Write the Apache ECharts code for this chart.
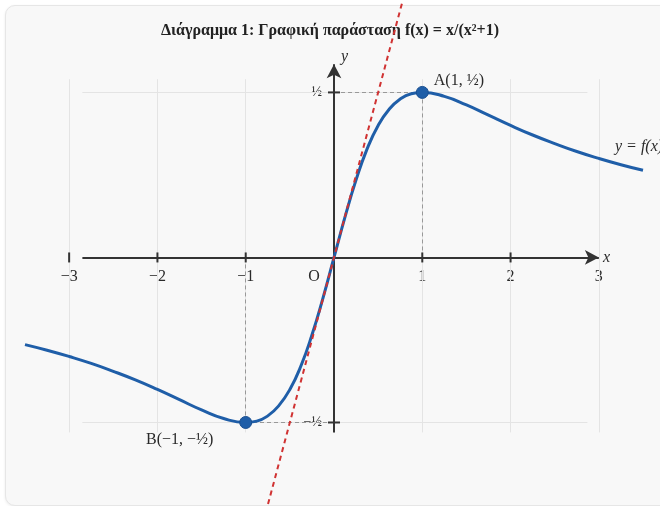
<!DOCTYPE html>
<html>
<head>
<meta charset="utf-8">
<script src="https://cdn.jsdelivr.net/npm/echarts@6/dist/echarts.min.js"></script>
<style>
html, body { margin: 0; padding: 0; background: #fff; }
#card { position: absolute; left: 5px; top: 5px; width: 700px; height: 499px; background: #f8f8f8;
        border: 1px solid #e6e6e6; border-radius: 10px; box-shadow: 0 1px 3px rgba(0,0,0,0.08); }
#chart { position: absolute; left: 0; top: 0; width: 660px; height: 506px; }
</style>
</head>
<body>
<div id="card"></div>
<div id="chart"></div>
<script>
// f(x) = x/(x^2+1)
var curveX = [-3.5, -3.25, -3, -2.75, -2.5, -2.25, -2, -1.75, -1.5, -1.25, -1, -0.875, -0.75, -0.625, -0.5, -0.375, -0.25, -0.125,
              0, 0.125, 0.25, 0.375, 0.5, 0.625, 0.75, 0.875, 1, 1.25, 1.5, 1.75, 2, 2.25, 2.5, 2.75, 3, 3.25, 3.5];
var curveY = [-0.264, -0.281, -0.300, -0.321, -0.345, -0.371, -0.400, -0.431, -0.462, -0.488, -0.500, -0.496, -0.480, -0.449, -0.400, -0.329, -0.235, -0.123,
              0, 0.123, 0.235, 0.329, 0.400, 0.449, 0.480, 0.496, 0.500, 0.488, 0.462, 0.431, 0.400, 0.371, 0.345, 0.321, 0.300, 0.281, 0.264];

// εφαπτομένη στο O: y = x
var tangentX = [-0.8, 0.8];
var tangentY = [-0.8, 0.8];

// ακρότατα
var pointNames = ['A(1, ½)', 'B(−1, −½)'];
var pointX = [1, -1];
var pointY = [0.5, -0.5];

// άξονες
var xTicks = [-3, -2, -1, 0, 1, 2, 3];
var xTickLabels = ['−3', '−2', '−1', 'O', '1', '2', '3'];
var yTicks = [-0.5, 0.5];
var yTickLabels = ['−½', '½'];

var SERIF = "'Liberation Serif', 'DejaVu Serif', serif";
var BLUE = '#1f5ea8';

// plot area: x in [-3.5, 3.5], y in [-0.75, 0.78]
var GRID = { left: 25, width: 618, top: 0, height: 505 };
var X_MIN = -3.5, X_MAX = 3.5, Y_MIN = -0.75, Y_MAX = 0.78;
// shift the label rows onto the zero lines
var xAxisOffset = -GRID.height * (0 - Y_MIN) / (Y_MAX - Y_MIN);
var yAxisOffset = -GRID.width * (0 - X_MIN) / (X_MAX - X_MIN);

function pairs(xs, ys) {
	var out = [];
	for (var i = 0; i < xs.length; i++) out.push([xs[i], ys[i]]);
	return out;
}

// grid lines
var gridLines = [];
xTicks.forEach(function(x) {
	gridLines.push([{ coord: [x, -0.53] }, { coord: [x, 0.54] }]);
});
yTicks.forEach(function(y) {
	gridLines.push([{ coord: [-2.85, y] }, { coord: [2.87, y] }]);
});

// dashed guides from A and B to the axes
var guides = [];
for (var i = 0; i < pointX.length; i++) {
	guides.push([{ coord: [pointX[i], 0] }, { coord: [pointX[i], pointY[i]] }]);
	guides.push([{ coord: [0, pointY[i]] }, { coord: [pointX[i], pointY[i]] }]);
}

var tickMarksX = xTicks.filter(function(v) { return v !== 0 && v !== 3; }).map(function(v) { return [v, 0]; });
var tickMarksY = yTicks.map(function(v) { return [0, v]; });

var chart = echarts.init(document.getElementById('chart'));
var option = {
	backgroundColor: 'transparent',
	animation: false,
	title: {
		text: 'Διάγραμμα 1: Γραφική παράσταση f(x) = x/(x²+1)',
		left: 'center',
		top: 18,
		textStyle: { fontFamily: SERIF, fontSize: 16, fontWeight: 'bold', color: '#222' }
	},
	grid: { left: GRID.left, width: GRID.width, top: GRID.top, height: GRID.height, containLabel: false, outerBoundsMode: 'none' },
	xAxis: {
		type: 'value', min: X_MIN, max: X_MAX,
		position: 'bottom', offset: xAxisOffset,
		axisLine: { show: false, onZero: false },
		axisTick: { show: false },
		splitLine: { show: false },
		axisLabel: {
			customValues: xTicks,
			margin: 11,
			fontFamily: SERIF, fontSize: 16, color: '#2a2a2a',
			formatter: function(v) {
				var s = xTickLabels[xTicks.indexOf(v)];
				return v === 0 ? '{o|' + s + '}' : s;
			},
			rich: { o: { fontFamily: SERIF, fontSize: 16, color: '#2a2a2a', padding: [0, 40, 0, 0] } }
		}
	},
	yAxis: {
		type: 'value', min: Y_MIN, max: Y_MAX,
		position: 'left', offset: yAxisOffset,
		axisLine: { show: false, onZero: false },
		axisTick: { show: false },
		splitLine: { show: false },
		axisLabel: {
			customValues: yTicks,
			margin: 12,
			fontFamily: SERIF, fontSize: 14, color: '#2a2a2a',
			formatter: function(v) { return yTickLabels[yTicks.indexOf(v)]; }
		}
	},
	graphic: [
		{ type: 'text', left: 341, top: 49, style: { text: 'y', font: 'italic 16px ' + SERIF, fill: '#2a2a2a' } },
		{ type: 'text', left: 603, top: 250, style: { text: 'x', font: 'italic 16px ' + SERIF, fill: '#2a2a2a' } },
		{ type: 'text', left: 615, top: 139, style: { text: 'y = f(x)', font: 'italic 16px ' + SERIF, fill: '#2a2a2a' } }
	],
	series: [
		{
			name: 'grid', type: 'line', data: [], z: 1, silent: true,
			markLine: {
				silent: true, z: 1, symbol: ['none', 'none'], label: { show: false },
				lineStyle: { color: '#e4e4e4', width: 1, type: 'solid' },
				data: gridLines
			}
		},
		{
			name: 'guides', type: 'line', data: [], z: 2, silent: true,
			markLine: {
				silent: true, z: 2, symbol: ['none', 'none'], label: { show: false },
				lineStyle: { color: '#999', width: 1, type: [4, 3] },
				data: guides
			}
		},
		{
			name: 'axes', type: 'line', data: [], z: 3, silent: true,
			markLine: {
				silent: true, z: 3, symbol: ['none', 'arrow'], symbolSize: [11, 14], label: { show: false },
				lineStyle: { color: '#333', width: 2, type: 'solid' },
				data: [
					[{ coord: [-2.85, 0] }, { coord: [3.0, 0] }],
					[{ coord: [0, -0.53] }, { coord: [0, 0.585] }]
				]
			}
		},
		{
			name: 'ticksX', type: 'scatter', z: 4, silent: true,
			symbol: 'rect', symbolSize: [2, 10],
			itemStyle: { color: '#333', opacity: 1 },
			data: tickMarksX
		},
		{
			name: 'ticksY', type: 'scatter', z: 4, silent: true,
			symbol: 'rect', symbolSize: [12, 2],
			itemStyle: { color: '#333', opacity: 1 },
			data: tickMarksY
		},
		{
			name: 'f', type: 'line', z: 5,
			smooth: 0.5,
			showSymbol: false,
			lineStyle: { color: BLUE, width: 3 },
			data: pairs(curveX, curveY)
		},
		{
			name: 'tangent', type: 'line', z: 6, clip: true,
			showSymbol: false,
			lineStyle: { color: '#d03232', width: 2, type: [5, 4] },
			data: pairs(tangentX, tangentY)
		},
		{
			name: 'points', type: 'scatter', z: 7,
			symbolSize: 12,
			itemStyle: { color: BLUE, borderColor: '#1a4f90', borderWidth: 1, opacity: 1 },
			data: [
				{ value: [pointX[0], pointY[0]], label: { show: true, position: 'right', distance: 5, offset: [0, -12], formatter: pointNames[0] } },
				{ value: [pointX[1], pointY[1]], label: { show: true, position: 'bottom', distance: 3, offset: [-66, 0], formatter: pointNames[1] } }
			],
			label: { fontFamily: SERIF, fontSize: 16, color: '#2a2a2a' }
		}
	]
};
chart.setOption(option);
</script>
</body>
</html>
